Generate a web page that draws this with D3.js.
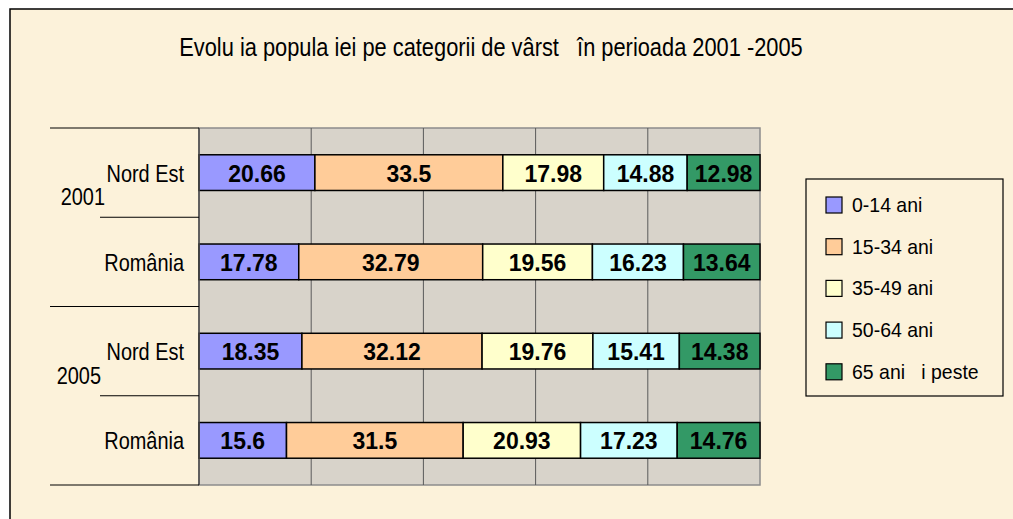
<html>
<head>
<meta charset="UTF-8">
<title>Evolutia populatiei</title>
<style>
	body { margin: 0; background: #fff; }
	text { white-space: pre; }
	.lbl { font-family: "Liberation Sans", Arial, sans-serif; }
	.val { font-family: "Liberation Sans", Arial, sans-serif; font-weight: bold; font-size: 23px; }
</style>
</head>
<body>
<script src="https://cdnjs.cloudflare.com/ajax/libs/d3/7.8.5/d3.min.js"></script>
<script>
var title = "Evolu ia popula iei pe categorii de vârst   în perioada 2001 -2005";
var rowLabels = ["Nord Est", "România", "Nord Est", "România"];
var years = ["2001", "2005"];
var series = ["0-14 ani", "15-34 ani", "35-49 ani", "50-64 ani", "65 ani   i peste"];
var v0_14 = [20.66, 17.78, 18.35, 15.6];
var v15_34 = [33.5, 32.79, 32.12, 31.5];
var v35_49 = [17.98, 19.56, 19.76, 20.93];
var v50_64 = [14.88, 16.23, 15.41, 17.23];
var v65 = [12.98, 13.64, 14.38, 14.76];
var colors = ["#9999ff", "#ffcc99", "#ffffcc", "#ccffff", "#339966"];

var W = 1013, H = 519;
var plot = {left: 199, right: 760, top: 128, bottom: 485};
var narrow = 0.83;   // no Arial Narrow here, so squeeze the regular face

// rows as table for d3.stack
var allVals = [v0_14, v15_34, v35_49, v50_64, v65];
var rows = rowLabels.map(function(l, i) {
	var r = {id: "r" + i, label: l, year: years[Math.floor(i / 2)]};
	series.forEach(function(s, j) { r[s] = allVals[j][i]; });
	return r;
});

var x = d3.scaleLinear().domain([0, 1]).range([plot.left, plot.right]);
var y = d3.scaleBand()
	.domain(rows.map(function(d) { return d.id; }))
	.range([plot.top, plot.bottom])
	.paddingInner(0.6)
	.paddingOuter(0.3);
var step = y.step();

var stacked = d3.stack().keys(series).offset(d3.stackOffsetExpand)(rows);

var svg = d3.select("body").append("svg")
	.attr("width", W).attr("height", H);

function squeeze(px, py) {
	return "translate(" + px + "," + py + ") scale(" + narrow + ",1)";
}

// outer chart frame
svg.append("rect").attr("x", 0).attr("y", 0).attr("width", W).attr("height", H).attr("fill", "#fff");
svg.append("rect")
	.attr("x", 10).attr("y", 9).attr("width", W + 20).attr("height", H + 20)
	.attr("fill", "#fcf2da").attr("stroke", "#000").attr("stroke-width", 1.5);

svg.append("text").attr("class", "lbl")
	.attr("transform", squeeze(491, 56))
	.attr("text-anchor", "middle")
	.attr("font-size", 26.3)
	.text(title);

// plot area
svg.append("rect")
	.attr("x", plot.left).attr("y", plot.top)
	.attr("width", plot.right - plot.left).attr("height", plot.bottom - plot.top)
	.attr("fill", "#d8d3ca").attr("stroke", "#8c8c8c").attr("stroke-width", 1.5);

svg.append("g").selectAll("line")
	.data([0.2, 0.4, 0.6, 0.8])
	.enter().append("line")
	.attr("x1", function(d) { return x(d); }).attr("x2", function(d) { return x(d); })
	.attr("y1", plot.top).attr("y2", plot.bottom)
	.attr("stroke", "#5a5a5a").attr("stroke-width", 1);

// bars
var layer = svg.append("g").selectAll("g")
	.data(stacked)
	.enter().append("g")
	.attr("fill", function(d, i) { return colors[i]; });

layer.selectAll("rect")
	.data(function(d) { return d; })
	.enter().append("rect")
	.attr("x", function(d) { return x(d[0]); })
	.attr("y", function(d) { return y(d.data.id); })
	.attr("width", function(d) { return x(d[1]) - x(d[0]); })
	.attr("height", y.bandwidth())
	.attr("stroke", "#000").attr("stroke-width", 1.5);

layer.each(function(s) {
	d3.select(this).selectAll("text")
		.data(s)
		.enter().append("text")
		.attr("class", "val")
		.attr("fill", "#000")
		.attr("text-anchor", "middle")
		.attr("x", function(d) { return (x(d[0]) + x(d[1])) / 2; })
		.attr("y", function(d) { return y(d.data.id) + y.bandwidth() / 2 + 9; })
		.text(function(d) { return d.data[s.key]; });
});

// multi-level category axis
var axis = svg.append("g");
axis.append("line")
	.attr("x1", plot.left).attr("x2", plot.left)
	.attr("y1", plot.top).attr("y2", plot.bottom)
	.attr("stroke", "#4a4a4a").attr("stroke-width", 1.5);
d3.range(rows.length + 1).forEach(function(i) {
	var yy = plot.top + i * step;
	axis.append("line")
		.attr("x1", i % 2 === 0 ? 50 : 100).attr("x2", plot.left)
		.attr("y1", yy).attr("y2", yy)
		.attr("stroke", "#000").attr("stroke-width", 1.2);
});
axis.selectAll("text.cat")
	.data(rows)
	.enter().append("text")
	.attr("class", "lbl cat")
	.attr("font-size", 24)
	.attr("text-anchor", "end")
	.attr("transform", function(d) { return squeeze(184, y(d.id) + y.bandwidth() / 2 + 9); })
	.text(function(d) { return d.label; });
axis.selectAll("text.yr")
	.data(years)
	.enter().append("text")
	.attr("class", "lbl yr")
	.attr("font-size", 24)
	.attr("text-anchor", "end")
	.attr("transform", function(d, i) {
		return squeeze(i === 0 ? 105 : 101, plot.top + (2 * i + 1) * step - 12);
	})
	.text(function(d) { return d; });

// legend
var legend = svg.append("g");
legend.append("rect")
	.attr("x", 806).attr("y", 179).attr("width", 197).attr("height", 217)
	.attr("fill", "#fcf2da").attr("stroke", "#000").attr("stroke-width", 1.2);
var li = legend.selectAll("g.item")
	.data(series)
	.enter().append("g")
	.attr("class", "item")
	.attr("transform", function(d, i) { return "translate(826," + (197 + i * 41.7) + ")"; });
li.append("rect")
	.attr("width", 16).attr("height", 16)
	.attr("fill", function(d, i) { return colors[i]; })
	.attr("stroke", "#000").attr("stroke-width", 1.2);
li.append("text")
	.attr("class", "lbl")
	.attr("font-size", 20.5)
	.attr("transform", "translate(26,15) scale(0.95,1)")
	.text(function(d) { return d; });
</script>
</body>
</html>
